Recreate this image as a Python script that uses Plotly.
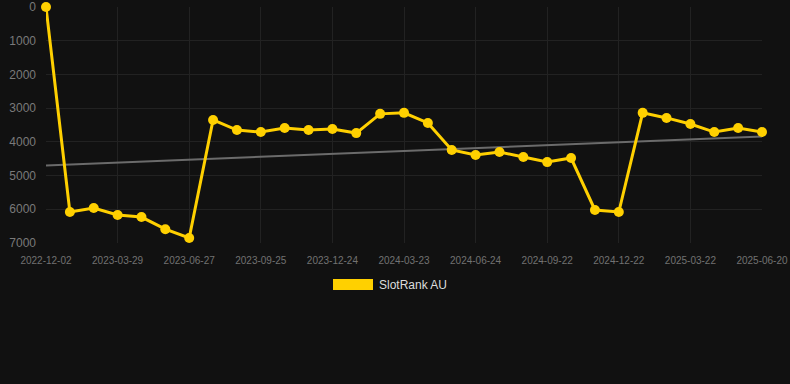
import numpy as np
import plotly.graph_objects as go

dates = ["2022-12-02", "2023-01-10", "2023-02-18", "2023-03-29", "2023-04-28", "2023-05-28",
         "2023-06-27", "2023-07-27", "2023-08-26", "2023-09-25", "2023-10-25", "2023-11-24",
         "2023-12-24", "2024-01-23", "2024-02-22", "2024-03-23", "2024-04-24", "2024-05-24",
         "2024-06-24", "2024-07-24", "2024-08-23", "2024-09-22", "2024-10-22", "2024-11-21",
         "2024-12-22", "2025-01-21", "2025-02-20", "2025-03-22", "2025-04-21", "2025-05-21",
         "2025-06-20"]
rank = [0, 6080, 5960, 6170, 6230, 6590, 6850, 3350, 3650, 3710, 3590, 3650, 3620, 3740,
        3170, 3140, 3440, 4240, 4390, 4300, 4450, 4600, 4480, 6020, 6080, 3140, 3290, 3470,
        3710, 3590, 3710]
series_name = "SlotRank AU"
y_ticks = [0, 1000, 2000, 3000, 4000, 5000, 6000, 7000]
x_ticks = dates[::3]

idx = np.arange(len(rank))
slope, intercept = np.polyfit(idx, rank, 1)
trend = (slope * idx + intercept).tolist()

YELLOW = "#FFD000"

fig = go.Figure()
fig.add_trace(go.Scatter(x=dates, y=trend, mode="lines",
                         line=dict(color="#6b6b6b", width=2), hoverinfo="skip",
                         showlegend=False))
fig.add_trace(go.Scatter(x=dates, y=rank, mode="lines+markers", name=series_name,
                         line=dict(color=YELLOW, width=3),
                         marker=dict(color=YELLOW, size=10),
                         cliponaxis=False, showlegend=False))

fig.update_layout(
    width=790, height=384,
    margin=dict(l=46, r=28, t=7, b=141, autoexpand=False),
    paper_bgcolor="#111111", plot_bgcolor="#111111",
    font=dict(family="Liberation Sans, Arial, sans-serif"),
    showlegend=False,
    xaxis=dict(type="category", categoryorder="array", categoryarray=dates,
               range=[0, len(dates) - 1], tickmode="array", tickvals=x_ticks,
               ticktext=x_ticks, showgrid=True, gridcolor="#222222", gridwidth=1,
               zeroline=False, showline=False, ticks="", automargin=False,
               ticklabelstandoff=10,
               tickfont=dict(size=10, color="#727272")),
    yaxis=dict(range=[7000, 0], tickmode="array", tickvals=y_ticks,
               showgrid=True, gridcolor="#222222", gridwidth=1, zeroline=False,
               showline=False, ticks="", ticklabelstandoff=9, automargin=False,
               tickfont=dict(size=12, color="#7a7a7a")),
)

# legend drawn as a swatch + label
fig.add_shape(type="rect", xref="paper", yref="paper",
              x0=(333 - 46) / 716, x1=(373 - 46) / 716,
              y0=(243 - 290) / 236, y1=(243 - 279) / 236,
              fillcolor=YELLOW, line=dict(width=0))
fig.add_annotation(text=series_name, xref="paper", yref="paper",
                   x=(377 - 46) / 716, y=(243 - 285) / 236,
                   xanchor="left", yanchor="middle", showarrow=False,
                   font=dict(size=12, color="#dddddd"))

fig.write_html("out.html")
